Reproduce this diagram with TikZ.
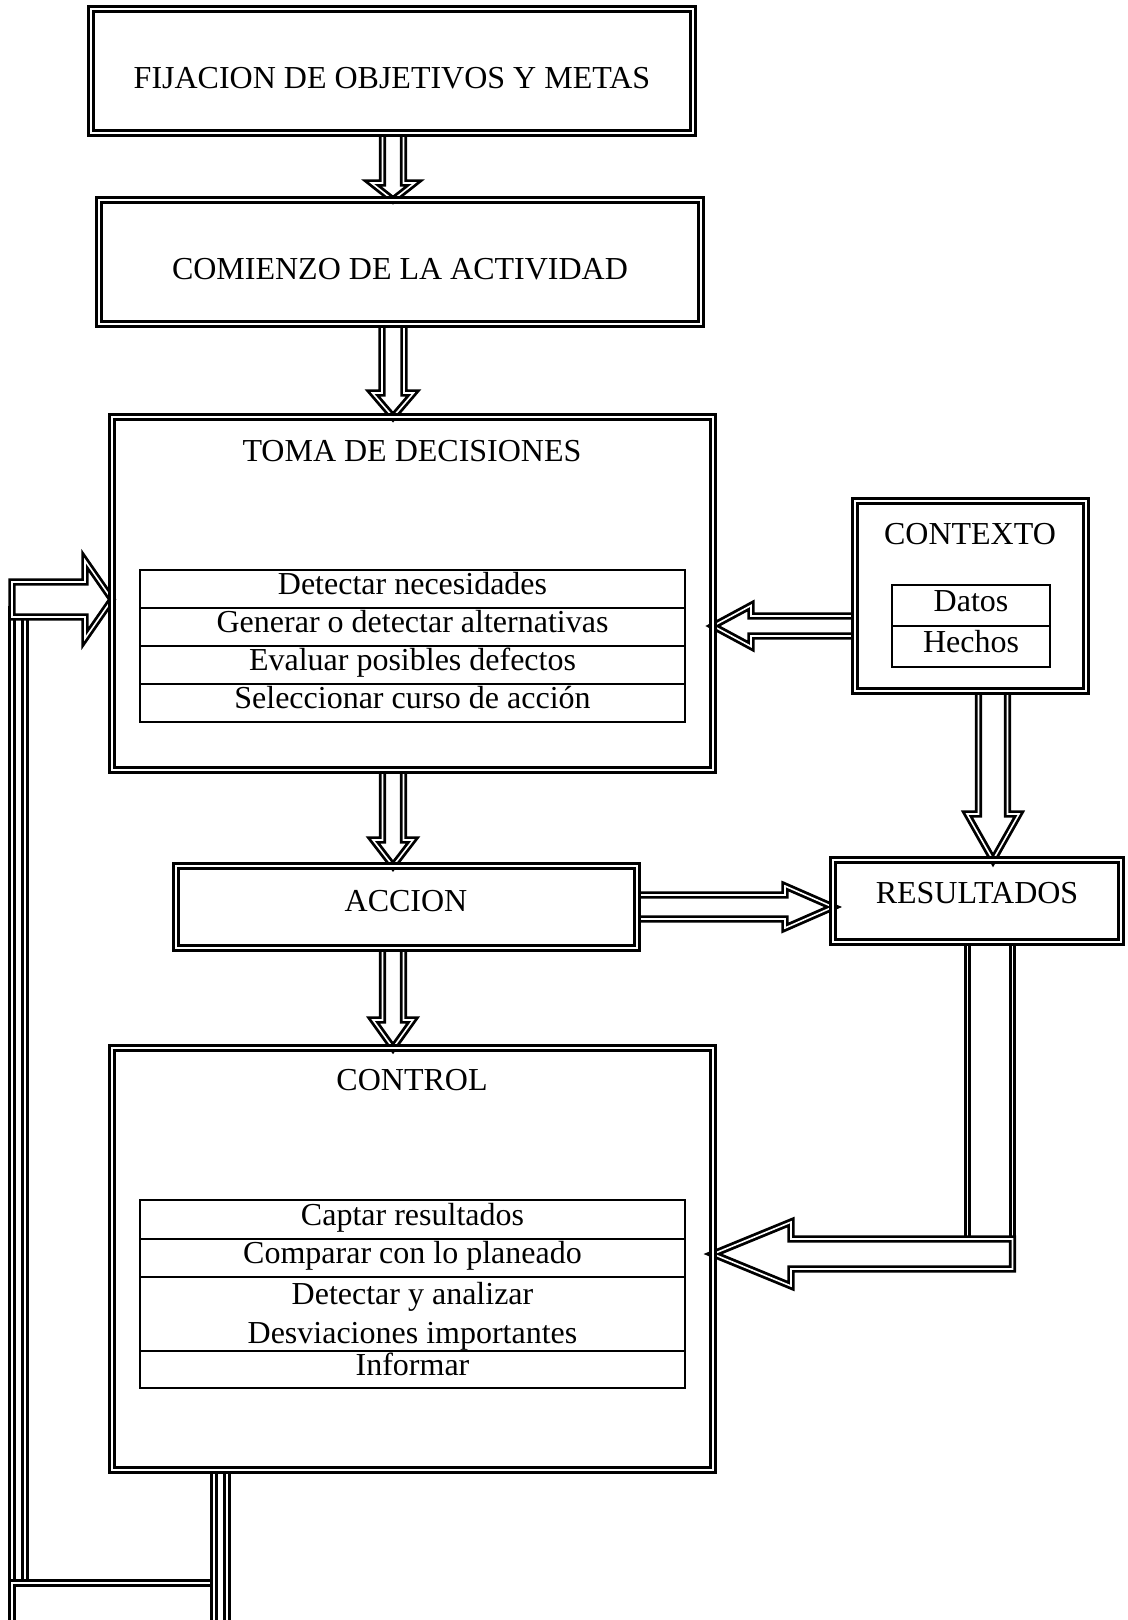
\documentclass[tikz,border=0pt]{standalone}
\usepackage{fontspec}
\setmainfont{Liberation Serif}
\usetikzlibrary{calc,fit}
\pgfdeclarelayer{bg}
\pgfsetlayers{bg,main}
\tikzset{
  dbl/.style={draw=black, line width=1.4pt, double=white, double distance=0.8pt},
  box/.style={dbl, inner sep=0pt, outer sep=0pt},
  blk/.style={dbl, fill=white, line join=miter},
  lbl/.style={inner sep=0pt, font=\fontsize{16}{19.5}\selectfont},
  lbl1/.style={lbl, text height=10pt, text depth=4.5pt},
  lbl2/.style={lbl, align=center, yshift=-1pt},
  cell/.style={draw=black, line width=0.8pt, inner sep=0pt, outer sep=0pt},
}
\newcommand\blkdown[5]{\draw[blk] ($(#1)+(-#3,0)$) -- ($(#2)+(-#3,-#5)$) -- ($(#2)+(-#4,-#5)$) -- (#2) -- ($(#2)+(#4,-#5)$) -- ($(#2)+(#3,-#5)$) -- ($(#1)+(#3,0)$) -- cycle;}
\newcommand\blkright[5]{\draw[blk] ($(#1)+(0,-#3)$) -- ($(#2)+(-#5,-#3)$) -- ($(#2)+(-#5,-#4)$) -- (#2) -- ($(#2)+(-#5,#4)$) -- ($(#2)+(-#5,#3)$) -- ($(#1)+(0,#3)$) -- cycle;}
\newcommand\blkleft[5]{\draw[blk] ($(#1)+(0,-#3)$) -- ($(#2)+(#5,-#3)$) -- ($(#2)+(#5,-#4)$) -- (#2) -- ($(#2)+(#5,#4)$) -- ($(#2)+(#5,#3)$) -- ($(#1)+(0,#3)$) -- cycle;}
\begin{document}
\begin{tikzpicture}[x=0.5pt,y=-0.5pt]
\useasboundingbox (0,0) rectangle (1128,1620);
\clip (0,0) rectangle (1128,1620);
% ---- boxes
\node[box, fit={(91,9)(693,133)}] (b1) {};
\node[lbl] at (392,78) {FIJACION DE OBJETIVOS Y METAS};
\node[box, fit={(99,200)(701,324)}] (b2) {};
\node[lbl] at (400,269) {COMIENZO DE LA ACTIVIDAD};
\node[box, fit={(112,417)(713,770)}] (toma) {};
\node[lbl] at (412,451) {TOMA DE DECISIONES};
\node[cell, fit={(140,570)(685,608)}, label={[lbl1]center:Detectar necesidades}] (t1) {};
\node[cell, fit={(140,608)(685,646)}, label={[lbl1]center:Generar o detectar alternativas}] (t2) {};
\node[cell, fit={(140,646)(685,684)}, label={[lbl1]center:Evaluar posibles defectos}] (t3) {};
\node[cell, fit={(140,684)(685,722)}, label={[lbl1]center:Seleccionar curso de acción}] (t4) {};
\node[box, fit={(855,501)(1086,691)}] (ctx) {};
\node[lbl] at (970,534) {CONTEXTO};
\node[cell, fit={(892,585)(1050,626)}, label={[lbl1]center:Datos}] (c1) {};
\node[cell, fit={(892,626)(1050,667)}, label={[lbl1]center:Hechos}] (c2) {};
\node[box, fit={(176,866)(637,948)}] (acc) {};
\node[lbl] at (406,901) {ACCION};
\node[box, fit={(833,860)(1121,942)}] (res) {};
\node[lbl] at (977,893) {RESULTADOS};
\node[box, fit={(112,1048)(713,1470)}] (ctl) {};
\node[lbl] at (412,1080) {CONTROL};
\node[cell, fit={(140,1200)(685,1239)}, label={[lbl1]center:Captar resultados}] (k1) {};
\node[cell, fit={(140,1239)(685,1277)}, label={[lbl1]center:Comparar con lo planeado}] (k2) {};
\node[cell, fit={(140,1277)(685,1351)}, label={[lbl2]center:{Detectar y analizar\\Desviaciones importantes}}] (k3) {};
\node[cell, fit={(140,1351)(685,1388)}, label={[lbl1]center:Informar}] (k4) {};
% ---- connector helpers
\coordinate (ax) at (393,0);
\coordinate (cx) at (993,0);
\coordinate (ay) at (0,907);
\coordinate (by) at (0,626);
\coordinate (rx) at (990,0);
\coordinate (ry) at (0,1254);
\coordinate (rs) at (1012.5,1254);
\coordinate (lx) at (220.5,0);
\coordinate (bot) at (0,1632);
\coordinate (ly) at (0,599.5);
\coordinate (ls) at (12,599.5);
\begin{pgfonlayer}{bg}
\clip (0,0) rectangle (1128,1620);
% feedback loop from CONTROL to TOMA DE DECISIONES
\draw[blk] (12,610) rectangle (25,1590);
\draw[blk] (12,1583) rectangle (218,1632);
\draw[blk] ($(ctl.south -| lx)+(-6.5,0)$) rectangle ($(bot -| lx)+(6.5,0)$);
\blkright{ls}{toma.west |- ly}{17.5}{39}{27}
% vertical flow
\blkdown{b1.south -| ax}{b2.north -| ax}{10.5}{21.5}{17}
\blkdown{b2.south -| ax}{toma.north -| ax}{11}{20.5}{24}
\blkdown{toma.south -| ax}{acc.north -| ax}{10.5}{20}{26}
\blkdown{acc.south -| ax}{ctl.north -| ax}{10.5}{20}{28}
% contexto
\blkleft{ctx.west |- by}{toma.east |- by}{10}{20.5}{38}
\blkdown{ctx.south -| cx}{res.north -| cx}{14.5}{26}{46}
% accion -> resultados
\blkright{acc.east |- ay}{res.west |- ay}{12}{21}{48}
% resultados -> control
\draw[blk] ($(res.south -| rx)+(-22.5,0)$) rectangle ($(ry -| rx)+(22.5,10)$);
\blkleft{rs}{ctl.east |- ry}{15}{32}{78}
\end{pgfonlayer}
\end{tikzpicture}
\end{document}
